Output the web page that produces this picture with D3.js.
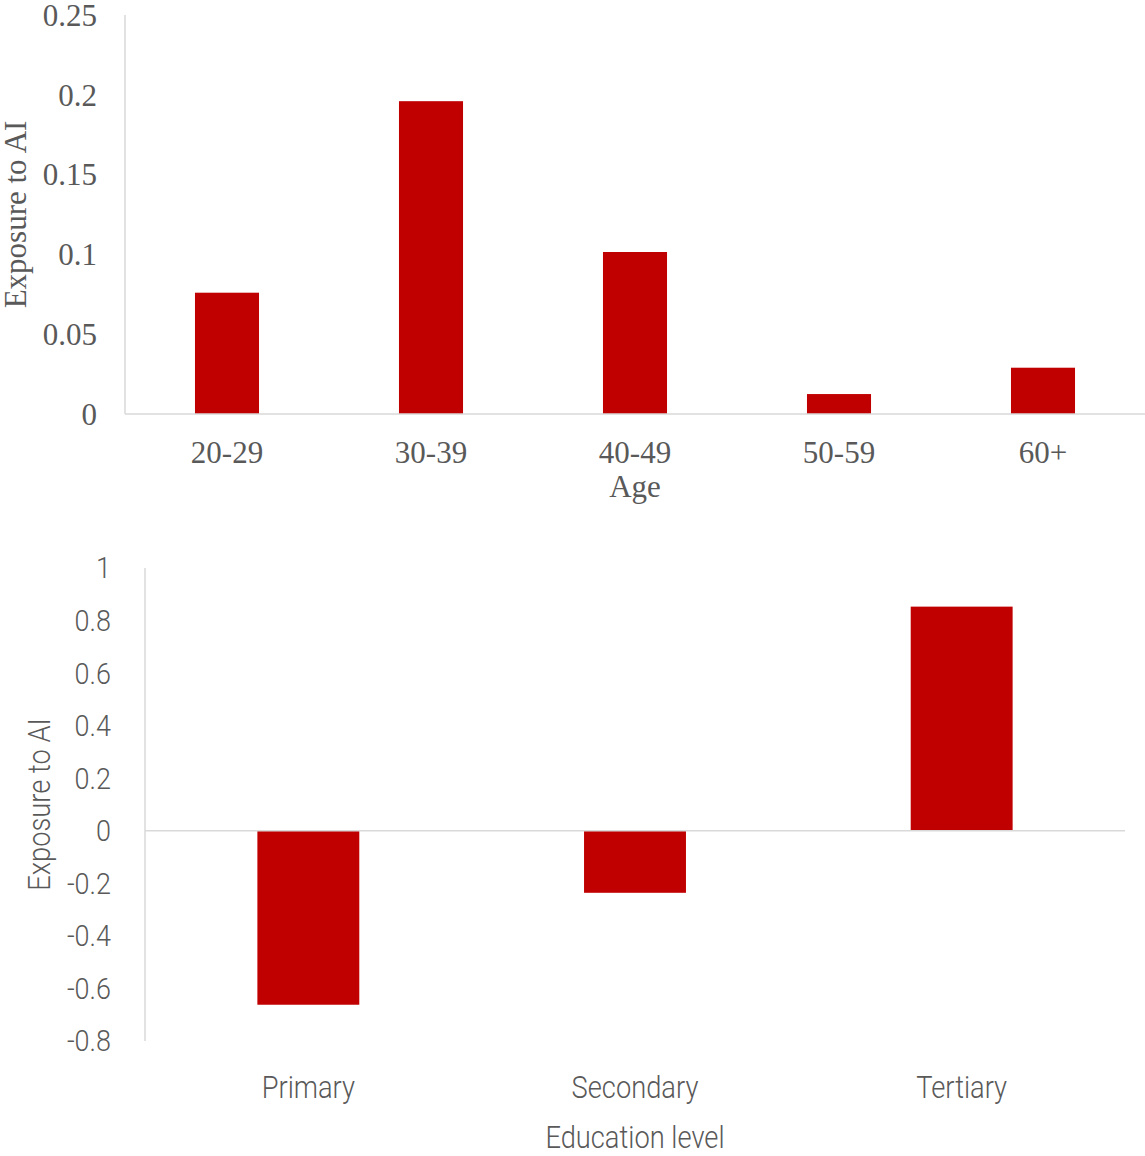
<!DOCTYPE html>
<html>
<head>
<meta charset="utf-8">
<script src="https://cdn.jsdelivr.net/npm/d3@7"></script>
<style>
  body { margin: 0; background: #fff; }
  .serif text { font-family: "Liberation Serif", "Times New Roman", serif; fill: #595959; }
  .cond text { font-family: Roboto, sans-serif; font-weight: 300; fill: #595959; }
</style>
</head>
<body>
<div id="chart"></div>
<script>
// Age panel
const ageGroups = ['20-29', '30-39', '40-49', '50-59', '60+'];
const ageExposure = [0.076, 0.196, 0.1015, 0.0125, 0.029];
const ageTicks = [0, 0.05, 0.1, 0.15, 0.2, 0.25];

// Education panel
const eduLevels = ['Primary', 'Secondary', 'Tertiary'];
const eduExposure = [-0.662, -0.236, 0.853];
const eduTicks = [-0.8, -0.6, -0.4, -0.2, 0, 0.2, 0.4, 0.6, 0.8, 1];

const barColor = '#c00000';
const lineColor = '#d9d9d9';

const svg = d3.select('#chart')
  .append('svg')
    .attr('width', 1145)
    .attr('height', 1156);

// squeeze Roboto into a condensed look
function condense(sel, k) {
  sel.each(function() {
    const w = this.getComputedTextLength();
    d3.select(this)
      .attr('textLength', w * k)
      .attr('lengthAdjust', 'spacingAndGlyphs');
  });
}

// ---- top: age ----
let gAge = svg.append('g').attr('class', 'serif');

let x1 = d3.scaleBand()
  .domain(ageGroups)
  .range([125, 1145])
  .paddingInner(0.686)
  .paddingOuter(0.343);

let y1 = d3.scaleLinear()
  .domain([0, 0.25])
  .range([414, 15]);

gAge.selectAll('rect')
  .data(ageGroups)
  .enter().append('rect')
    .attr('x', d => x1(d))
    .attr('width', x1.bandwidth())
    .attr('y', (d, i) => y1(ageExposure[i]))
    .attr('height', (d, i) => y1(0) - y1(ageExposure[i]))
    .attr('fill', barColor);

// y axis line
gAge.append('line')
  .attr('x1', 125).attr('x2', 125)
  .attr('y1', y1(0.25)).attr('y2', y1(0))
  .attr('stroke', lineColor).attr('stroke-width', 1.5);
// baseline
gAge.append('line')
  .attr('x1', 125).attr('x2', 1145)
  .attr('y1', y1(0)).attr('y2', y1(0))
  .attr('stroke', lineColor).attr('stroke-width', 1.5);

gAge.selectAll('.ytick')
  .data(ageTicks)
  .enter().append('text')
    .attr('class', 'ytick')
    .attr('x', 97)
    .attr('y', d => y1(d))
    .attr('dy', '0.35em')
    .attr('text-anchor', 'end')
    .style('font-size', '31px')
    .text(d => d3.format('')(d));

gAge.selectAll('.xtick')
  .data(ageGroups)
  .enter().append('text')
    .attr('class', 'xtick')
    .attr('x', d => x1(d) + x1.bandwidth() / 2)
    .attr('y', 463)
    .attr('text-anchor', 'middle')
    .style('font-size', '31px')
    .text(d => d);

gAge.append('text')
  .attr('x', 635)
  .attr('y', 497)
  .attr('text-anchor', 'middle')
  .style('font-size', '31px')
  .text('Age');

gAge.append('text')
  .attr('transform', 'translate(26,' + (y1(0.25) + y1(0)) / 2 + ') rotate(-90)')
  .attr('text-anchor', 'middle')
  .style('font-size', '31px')
  .text('Exposure to AI');

// ---- bottom: education ----
let gEdu = svg.append('g').attr('class', 'cond');

let x2 = d3.scaleBand()
  .domain(eduLevels)
  .range([145, 1125])
  .paddingInner(0.688)
  .paddingOuter(0.344);

let y2 = d3.scaleLinear()
  .domain([-0.8, 1])
  .range([1041, 568]);

gEdu.selectAll('rect')
  .data(eduLevels)
  .enter().append('rect')
    .attr('x', d => x2(d))
    .attr('width', x2.bandwidth())
    .attr('y', (d, i) => y2(Math.max(0, eduExposure[i])))
    .attr('height', (d, i) => Math.abs(y2(eduExposure[i]) - y2(0)))
    .attr('fill', barColor);

gEdu.append('line')
  .attr('x1', 145).attr('x2', 145)
  .attr('y1', y2(1)).attr('y2', y2(-0.8))
  .attr('stroke', lineColor).attr('stroke-width', 1.5);
gEdu.append('line')
  .attr('x1', 145).attr('x2', 1125)
  .attr('y1', y2(0)).attr('y2', y2(0))
  .attr('stroke', lineColor).attr('stroke-width', 1.5);

gEdu.selectAll('.ytick')
  .data(eduTicks)
  .enter().append('text')
    .attr('class', 'ytick')
    .attr('x', 111)
    .attr('y', d => y2(d))
    .attr('dy', '0.36em')
    .attr('text-anchor', 'end')
    .style('font-size', '29px')
    .text(d => d3.format('')(d).replace('−', '-'))
    .call(condense, 0.93);

gEdu.selectAll('.xtick')
  .data(eduLevels)
  .enter().append('text')
    .attr('class', 'xtick')
    .attr('x', d => x2(d) + x2.bandwidth() / 2)
    .attr('y', 1098)
    .attr('text-anchor', 'middle')
    .style('font-size', '31px')
    .text(d => d)
    .call(condense, 0.88);

gEdu.append('text')
  .attr('x', 635)
  .attr('y', 1148)
  .attr('text-anchor', 'middle')
  .style('font-size', '31px')
  .text('Education level')
  .call(condense, 0.88);

gEdu.append('text')
  .attr('transform', 'translate(50,' + (y2(1) + y2(-0.8)) / 2 + ') rotate(-90)')
  .attr('text-anchor', 'middle')
  .style('font-size', '31px')
  .text('Exposure to AI')
  .call(condense, 0.88);
</script>
</body>
</html>
